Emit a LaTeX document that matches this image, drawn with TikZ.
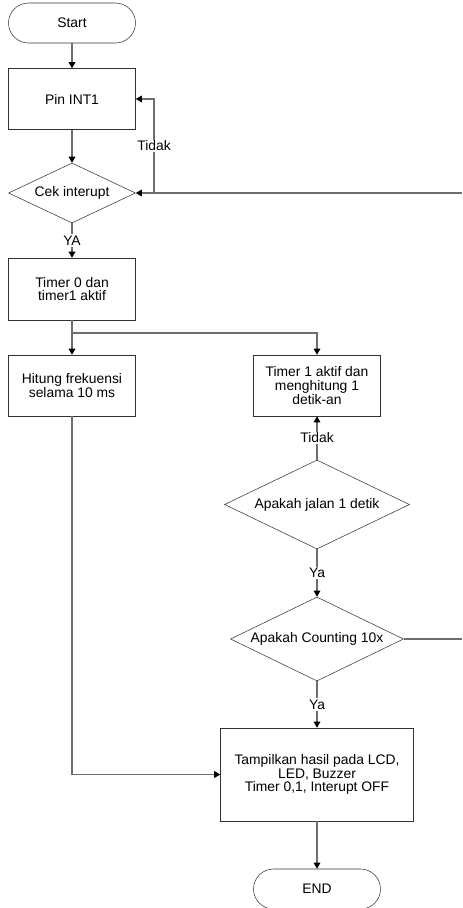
\documentclass[tikz,border=0pt]{standalone}
\usepackage{fontspec}
\setmainfont{Liberation Sans}
\usetikzlibrary{shapes.geometric,arrows.meta}
\tikzstyle{every node}=[font=\fontsize{10.4}{10.4}\selectfont]
\tikzstyle{proses}=[draw=black!80, rectangle, minimum width=95.25pt, minimum height=45.75pt, align=center, inner sep=0pt]
\tikzstyle{terminal}=[draw=black!80, rectangle, rounded corners=15pt, minimum width=95.25pt, minimum height=30pt]
\tikzstyle{keputusan}=[draw=black!80, diamond, aspect=2.1, inner sep=0pt, align=center]
\tikzstyle{sambung}=[draw=black!57, line width=0.8pt]
\tikzstyle{garis}=[sambung, -{Triangle[length=4.5pt,width=5pt,color=black]}]
\tikzstyle{ket}=[fill=white, inner sep=1pt]

\begin{document}
\begin{tikzpicture}[x=0.75pt,y=-0.75pt]
\useasboundingbox (0,0) rectangle (462,908);

% kolom kiri
\node[terminal] (start) at (72,23) {Start};
\node[proses] (pin) at (72,99) {Pin INT1};
\node[keputusan, minimum width=95.25pt, minimum height=45pt] (cek) at (72,193) {Cek interupt};
\node[proses, minimum height=46.5pt] (timer) at (72,289) {Timer 0 dan\\timer1 aktif};
\node[proses] (hitung) at (72,385.5) {Hitung frekuensi\\selama 10 ms};

% kolom kanan
\node[proses] (timsatu) at (317,385.5) {Timer 1 aktif dan\\menghitung 1\\detik-an};
\node[keputusan, minimum width=138.75pt, minimum height=66.75pt] (jalan) at (317,504.5) {Apakah jalan 1 detik};
\node[keputusan, minimum width=129.75pt, minimum height=63pt] (hitungan) at (317,639) {Apakah Counting 10x};
\node[proses, minimum width=144.75pt, minimum height=69.75pt] (tampil) at (317,774.5) {Tampilkan hasil pada LCD,\\LED, Buzzer\\Timer 0,1, Interupt OFF};
\node[terminal] (end) at (317,889) {END};

\coordinate (kanan1) at (462,193);
\coordinate (belok) at (154,193);
\coordinate (cabang) at (72,333);
\coordinate (kanan2) at (462,639);

% garis
\draw[garis] (start) -- (pin);
\draw[garis] (pin) -- (cek);
\draw[garis] (kanan1) -- (cek);
\draw[garis] (belok) |- node[ket,pos=0.25]{Tidak} (pin);
\draw[garis] (cek) -- node[ket]{YA} (timer);
\draw[sambung] (timer) -- (cabang);
\draw[garis] (cabang) -- (hitung);
\draw[garis] (cabang) -| (timsatu);
\draw[garis] (jalan) -- node[ket]{Tidak} (timsatu);
\draw[garis] (jalan) -- node[ket]{Ya} (hitungan);
\draw[sambung] (hitungan) -- (kanan2);
\draw[garis] (hitungan) -- node[ket]{Ya} (tampil);
\draw[garis] (hitung) |- (tampil);
\draw[garis] (tampil) -- (end);

\end{tikzpicture}
\end{document}
